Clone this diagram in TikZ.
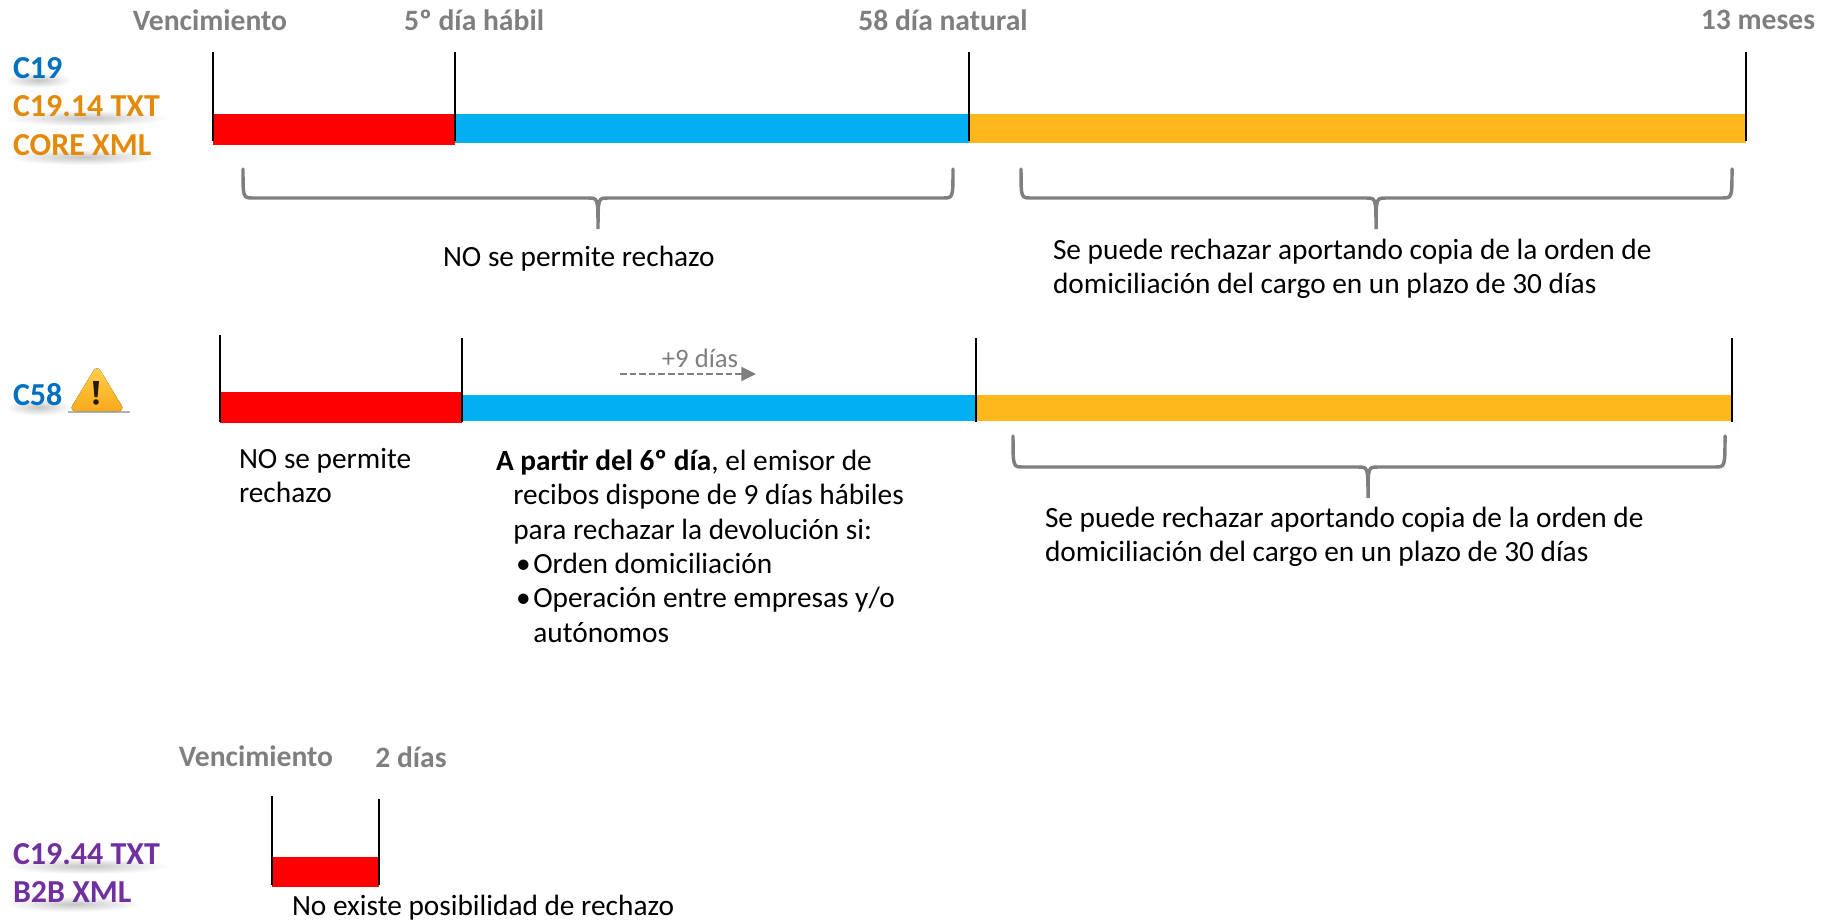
\documentclass[tikz,border=0pt]{standalone}
\usepackage{fontspec}
\setmainfont{Carlito}
\usepackage{tikz}
\usetikzlibrary{arrows.meta,fadings,backgrounds}
\definecolor{barRed}{HTML}{FF0000}
\definecolor{barBlue}{HTML}{00B0F0}
\definecolor{barOrange}{HTML}{FFB81C}
\definecolor{headGrey}{HTML}{7F7F7F}
\definecolor{codeBlue}{HTML}{0070C0}
\definecolor{codeOrange}{HTML}{E48A0B}
\definecolor{codePurple}{HTML}{7030A0}
\definecolor{signTop}{HTML}{FFD24A}
\definecolor{signBottom}{HTML}{F9A91B}
\tikzfading[name=softEdge,inner color=transparent!25,outer color=transparent!100]
\tikzset{
  every node/.style={inner sep=0pt,outer sep=0pt},
  tick line/.style={draw=black,line width=2pt},
  brace line/.style={draw=headGrey,line width=2.6pt,line cap=round},
  head label/.style={text=headGrey,font=\fontsize{22.2}{26}\selectfont\bfseries},
  body label/.style={anchor=west,align=left,text=black,font=\fontsize{22}{25.8}\selectfont},
  code label/.style={anchor=west,font=\fontsize{24}{28}\selectfont\bfseries}
}
% code name with its soft shadow
\newcommand\codeName[5]{%
  \node[code label,text=#2] (#1) at (#3,#4) {#5};
  \begin{scope}[on background layer]
    \fill[black,opacity=.3,path fading=softEdge] ([shift={(-6pt,-7pt)}]#1.south west) rectangle ([shift={(7pt,-11pt)}]#1.north east);
  \end{scope}
}
\begin{document}
\begin{tikzpicture}[x=0.75pt,y=-0.75pt]
\useasboundingbox (0,0) rectangle (1830,921);
% first row
\fill[barBlue] (455,114) rectangle (969,143);
\fill[barOrange] (969,114) rectangle (1746,143);
\fill[barRed] (213,114) rectangle (455,145);
\foreach \x/\a/\b in {213/52/141,455/52/141,969/52/141,1746/52/141} {
  \draw[tick line] (\x,\a) -- (\x,\b);
}
\node[head label] (dueOne) at (210,20) {Vencimiento};
\node[head label] (fifthDay) at (474,20) {5º día hábil};
\node[head label] (naturalDay) at (943,20) {58 día natural};
\node[head label] (months) at (1758,20) {13 meses};
\codeName{cNineteen}{codeBlue}{13}{68}{C19}
\codeName{cFourteen}{codeOrange}{13}{106}{C19.14 TXT}
\codeName{coreXml}{codeOrange}{13}{145}{CORE XML}
% second row
\fill[barBlue] (462,395) rectangle (976,421);
\fill[barOrange] (976,395) rectangle (1732,421);
\fill[barRed] (220,392) rectangle (462,423);
\foreach \x/\a/\b in {220/335/422,462/338/422,976/338/422,1732/338/422} {
  \draw[tick line] (\x,\a) -- (\x,\b);
}
\codeName{cFiftyEight}{codeBlue}{13}{395}{C58}
\fill[black!30] (68,411) rectangle (130,412.5);
\fill[top color=signTop,bottom color=signBottom,rounded corners=5pt] (97,365) -- (125,411) -- (69,411) -- cycle;
\fill[black!80!brown] (93,381) -- (99,381) -- (97.5,397) -- (94.5,397) -- cycle;
\fill[black!80!brown] (96,402) circle (2.8);
\node[text=headGrey,font=\fontsize{20}{24}\selectfont] (nineDays) at (700,358) {+9 días};
\coordinate (arrowFrom) at (620,374);
\coordinate (arrowTo) at (756,374);
\draw[headGrey,line width=1.7pt,dash pattern=on 5pt off 2.2pt,-{Triangle[length=11pt,width=10.5pt]}] (arrowFrom) -- (arrowTo);
% third row
\fill[barRed] (272,857) rectangle (379,887);
\foreach \x/\a/\b in {272/796/885,379/799/885} {
  \draw[tick line] (\x,\a) -- (\x,\b);
}
\node[head label] (dueTwo) at (256,756) {Vencimiento};
\node[head label] (twoDays) at (411,757) {2 días};
\codeName{cFortyFour}{codePurple}{13}{854}{C19.44 TXT}
\codeName{bTwoB}{codePurple}{13}{892}{B2B XML}
% braces
\foreach \xa/\xb/\xm/\ya/\yb in {243/953/598/169/198,1021/1732/1376/169/198,1013/1725/1368/436/467} {
  \draw[brace line] (\xa,\ya) .. controls (\xa,\yb) .. (\xa+10,\yb) -- (\xm-10,\yb)
    .. controls (\xm,\yb) .. (\xm,\yb+31) .. controls (\xm,\yb) .. (\xm+10,\yb)
    -- (\xb-10,\yb) .. controls (\xb,\yb) .. (\xb,\ya);
}
% texts
\node[body label] (noReject) at (443,259) {NO se permite rechazo};
\node[body label] (canReject) at (1053,269) {Se puede rechazar aportando copia de la orden de\\domiciliación del cargo en un plazo de 30 días};
\node[body label] (noRejectTwo) at (239,475.5) {NO se permite\\rechazo};
\node[body label] (fromSixth) at (496,546) {\textbf{A partir del 6º día}, el emisor de\\
  \hspace*{13pt}recibos dispone de 9 días hábiles\\
  \hspace*{13pt}para rechazar la devolución si:\\
  \hspace*{15pt}\makebox[13pt][l]{•}Orden domiciliación\\
  \hspace*{15pt}\makebox[13pt][l]{•}Operación entre empresas y/o\\
  \hspace*{28pt}autónomos};
\node[body label] (canRejectTwo) at (1045,537) {Se puede rechazar aportando copia de la orden de\\domiciliación del cargo en un plazo de 30 días};
\node[body label] (noChance) at (292,908) {No existe posibilidad de rechazo};
\end{tikzpicture}
\end{document}
